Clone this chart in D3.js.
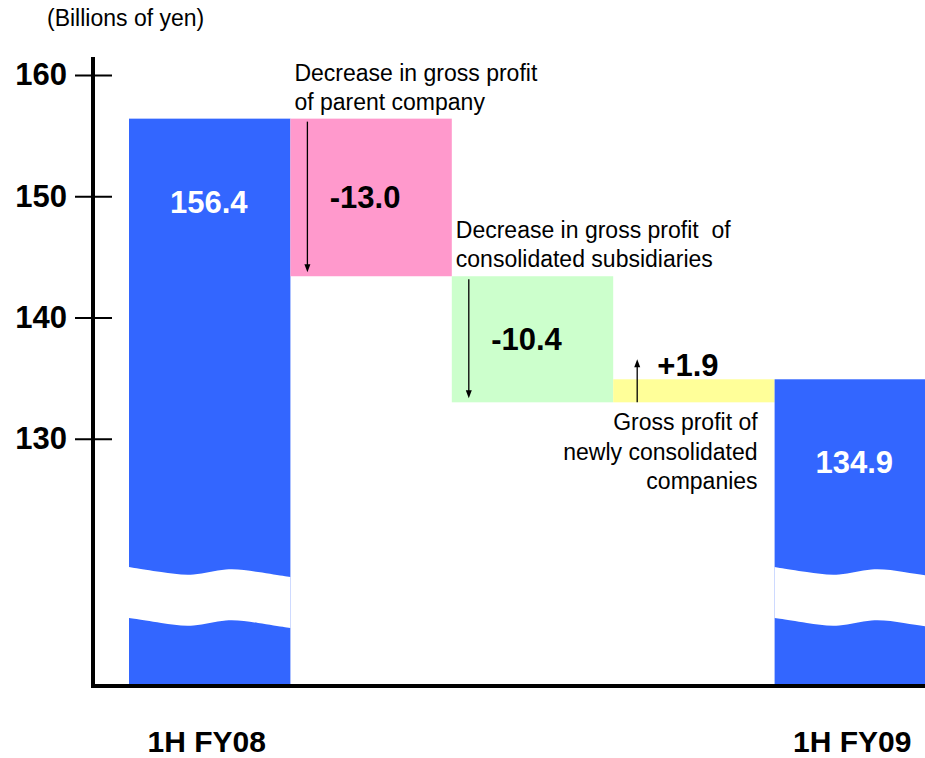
<!DOCTYPE html>
<html>
<head>
<meta charset="utf-8">
<script src="https://cdn.jsdelivr.net/npm/d3@7"></script>
<style>
  body { margin: 0; background: #fff; }
  svg { display: block; font-family: Arial, 'Liberation Sans', sans-serif; }
</style>
</head>
<body>
<div id="chart"></div>
<script>
// data
const categories = ['1H FY08', 'parent', 'subsidiaries', 'newly', '1H FY09'];
const amounts = [156.4, -13.0, -10.4, 1.9, 134.9];
const kinds = ['total', 'delta', 'delta', 'delta', 'total'];
const valueLabels = ['156.4', '-13.0', '-10.4', '+1.9', '134.9'];
const notes = [
  [],
  ['Decrease in gross profit', 'of parent company'],
  ['Decrease in gross profit  of', 'consolidated subsidiaries'],
  ['Gross profit of', 'newly consolidated', 'companies'],
  [],
];
const yTicks = [130, 140, 150, 160];
const axisBreak = [114.8, 119.0]; // the wavy cut in the blue bars

const barColors = ['#3366FF', '#FF99CC', '#CCFFCC', '#FFFF99', '#3366FF'];

const size = { width: 925, height: 758 };

const svg = d3
  .select('#chart')
  .append('svg')
  .attr('width', size.width)
  .attr('height', size.height);

/*
  SCALES
*/
const y = d3.scaleLinear().domain([109.6, 160]).range([686, 75]);

const x = d3
  .scaleBand()
  .domain(categories)
  .range([129, 936])
  .padding(0);

// running totals for the waterfall
let running = 0;
const bars = categories.map((cat, i) => {
  const amt = amounts[i];
  let from, to;
  if (kinds[i] === 'total') {
    from = y.domain()[0];
    to = amt;
    running = amt;
  } else {
    from = running;
    to = running + amt;
    running = to;
  }
  return {
    cat,
    amt,
    kind: kinds[i],
    label: valueLabels[i],
    note: notes[i],
    color: barColors[i],
    hi: Math.max(from, to),
    lo: Math.min(from, to),
  };
});

/*
  BARS
*/
svg
  .append('g')
  .selectAll('rect')
  .data(bars)
  .join('rect')
  .attr('x', (d) => x(d.cat))
  .attr('y', (d) => y(d.hi))
  .attr('width', x.bandwidth())
  .attr('height', (d) => y(d.lo) - y(d.hi))
  .attr('fill', (d) => d.color);

// wavy white break across the total bars
const waveAt = [0, 0.2, 0.4, 0.6, 0.8, 1];
const wobble = [-5, 0, 5, -5, 0, 5];
const wave = d3
  .area()
  .x((d) => d.x)
  .y0((d) => y(axisBreak[0]) + d.w)
  .y1((d) => y(axisBreak[1]) + d.w)
  .curve(d3.curveBasis);

svg
  .append('g')
  .selectAll('path')
  .data(bars.filter((d) => d.kind === 'total'))
  .join('path')
  .attr('fill', '#fff')
  .attr('d', (d) =>
    wave(waveAt.map((f, i) => ({ x: x(d.cat) + f * x.bandwidth(), w: wobble[i] }))),
  );

/*
  ARROWS on the change bars
*/
const deltas = bars.filter((d) => d.kind === 'delta');

const arrows = svg.append('g').selectAll('g').data(deltas).join('g');

const arrowX = (d) => x(d.cat) + (d.amt < 0 ? 17 : 24);
const arrowFrom = (d) => (d.amt < 0 ? y(d.hi) + 3 : y(d.lo));
const arrowTo = (d) => (d.amt < 0 ? y(d.lo) - 4 : y(d.hi) - 20);

arrows
  .append('line')
  .attr('x1', arrowX)
  .attr('x2', arrowX)
  .attr('y1', arrowFrom)
  .attr('y2', (d) => arrowTo(d) + (d.amt < 0 ? -6 : 6))
  .attr('stroke', '#000')
  .attr('stroke-width', 1.3);

arrows
  .append('path')
  .attr('fill', '#000')
  .attr('d', (d) => {
    const ax = arrowX(d);
    const tip = arrowTo(d);
    const back = d.amt < 0 ? tip - 8 : tip + 8;
    return `M${ax},${tip}L${ax - 3},${back}L${ax + 3},${back}Z`;
  });

/*
  VALUE LABELS
*/
svg
  .append('g')
  .selectAll('text')
  .data(bars)
  .join('text')
  .attr('text-anchor', 'middle')
  .attr('font-weight', 'bold')
  .attr('font-size', '31px')
  .attr('fill', (d) => (d.kind === 'total' ? '#fff' : '#000'))
  .attr('x', (d) => x(d.cat) + x.bandwidth() / 2 - (d.kind === 'total' ? 1 : 6))
  .attr('y', (d) => {
    if (d.kind === 'total') return y(d.hi) + 94;
    if (d.amt < 0) return (y(d.hi) + y(d.lo)) / 2 + 11;
    return y(d.hi) - 3;
  })
  .text((d) => d.label);

/*
  NOTES next to the change bars
*/
const noteGroups = svg.append('g').selectAll('text').data(deltas).join('text');

noteGroups
  .attr('font-size', '23px')
  .attr('fill', '#000')
  .attr('text-anchor', (d) => (d.amt < 0 ? 'start' : 'end'))
  .attr('xml:space', 'preserve')
  .style('white-space', 'pre')
  .selectAll('tspan')
  .data((d) =>
    d.note.map((line, i) => ({
      line,
      x: d.amt < 0 ? x(d.cat) + 4 : x(d.cat) + x.bandwidth() - 17,
      y: d.amt < 0 ? y(d.hi) - 38 + i * 29 : y(d.lo) + 28 + i * 29.5,
    })),
  )
  .join('tspan')
  .attr('x', (d) => d.x)
  .attr('y', (d) => d.y)
  .text((d) => d.line);

/*
  AXES
*/
const yAxis = svg
  .append('g')
  .attr('transform', 'translate(112,0)')
  .call(d3.axisLeft(y).tickValues(yTicks).tickSize(37).tickPadding(8));

yAxis.select('.domain').remove();
yAxis.selectAll('.tick line').attr('stroke', '#000').attr('stroke-width', 2);
yAxis
  .selectAll('.tick text')
  .attr('fill', '#000')
  .attr('font-family', "Arial, 'Liberation Sans', sans-serif")
  .attr('font-weight', 'bold')
  .attr('font-size', '31px');

// vertical axis line
svg
  .append('line')
  .attr('x1', 93)
  .attr('x2', 93)
  .attr('y1', 57)
  .attr('y2', y.range()[0] + 2)
  .attr('stroke', '#000')
  .attr('stroke-width', 4);

// base line
svg
  .append('line')
  .attr('x1', 91)
  .attr('x2', size.width)
  .attr('y1', y.range()[0])
  .attr('y2', y.range()[0])
  .attr('stroke', '#000')
  .attr('stroke-width', 4);

// unit
svg
  .append('text')
  .attr('x', 47)
  .attr('y', 26)
  .attr('font-size', '23px')
  .attr('fill', '#000')
  .text('(Billions of yen)');

// category labels
svg
  .append('g')
  .selectAll('text')
  .data(bars.filter((d) => d.kind === 'total'))
  .join('text')
  .attr('x', (d) => x(d.cat) + x.bandwidth() / 2 - 3)
  .attr('y', 752)
  .attr('text-anchor', 'middle')
  .attr('font-weight', 'bold')
  .attr('font-size', '30px')
  .attr('fill', '#000')
  .text((d) => d.cat);
</script>
</body>
</html>
